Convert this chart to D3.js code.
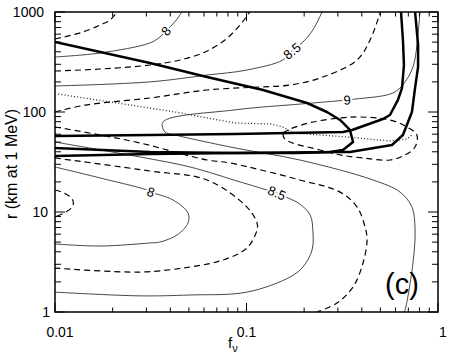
<!DOCTYPE html>
<html><head><meta charset="utf-8">
<script src="https://cdn.jsdelivr.net/npm/d3@7"></script>
<style>html,body{margin:0;padding:0;background:#fff;}svg{display:block;font-family:"Liberation Sans",Arial,sans-serif;}</style>
</head><body>
<script>
// ---- data (f_nu, r in km) ----
const xTickValues = [0.01, 0.1, 1];
const xTickLabels = ["0.01", "0.1", "1"];
const yTickValues = [1, 10, 100, 1000];
const yTickLabels = ["1", "10", "100", "1000"];

// thin solid contours (labelled levels)
const c800top = [[0.01,355],[0.0172,389],[0.0313,490],[0.0353,562],[0.038,646],[0.0408,741],[0.0434,851],[0.046,1000]];
const c800low = [[0.01,28.2],[0.0172,21.9],[0.0302,16.6],[0.0317,15.8],[0.0413,13.2],[0.0495,9.77],[0.0495,7.76],[0.0434,5.89],[0.0353,5.01],[0.0313,4.90],[0.0172,4.57],[0.01,4.79]];
const c850top = [[0.01,182],[0.0313,200],[0.0622,234],[0.1006,263],[0.155,331],[0.173,407],[0.197,501],[0.222,661],[0.248,1000]];
const c850low = [[0.01,50.1],[0.0278,35.5],[0.0507,28.2],[0.0925,20.0],[0.128,16.6],[0.144,15.5],[0.165,13.8],[0.190,12.0],[0.215,9.33],[0.222,6.61],[0.220,4.17],[0.197,2.82],[0.169,2.24],[0.1006,1.58],[0.0507,1.48],[0.0278,1.45],[0.01,1.58]];
const c900 = [[0.805,1000],[0.787,617],[0.740,282],[0.634,174],[0.561,151],[0.373,135],[0.335,132],[0.297,129],[0.190,120],[0.0871,105],[0.0366,79.4],[0.0375,63.1],[0.0424,58.9],[0.0871,43.7],[0.190,33.1],[0.458,20.9],[0.634,15.8],[0.731,11.2],[0.759,6.61],[0.740,3.09],[0.673,1.05],[0.664,1.0]];

// dashed contours (intermediate levels)
const c775top = [[0.01,537],[0.014,631],[0.0172,741],[0.0194,832],[0.0211,1000]];
const c775low = [[0.01,16.6],[0.0111,15.5],[0.0123,13.5],[0.0124,11.5],[0.0114,10],[0.0102,9.12]];
const c825top = [[0.01,257],[0.0172,269],[0.0313,295],[0.045,331],[0.0607,398],[0.0772,525],[0.0925,741],[0.104,1000]];
const c825low = [[0.01,34.7],[0.0313,25.7],[0.0622,20.9],[0.1006,11.2],[0.1135,7.76],[0.1135,6.61],[0.1006,4.37],[0.0754,3.31],[0.0507,2.82],[0.0278,2.51],[0.01,2.75]];
const c875top = [[0.01,100],[0.0143,117],[0.0313,138],[0.0622,166],[0.118,178],[0.169,186],[0.251,224],[0.378,331],[0.442,525],[0.498,977]];
const c875low = [[0.01,70.8],[0.0172,58.9],[0.0278,49.0],[0.0622,33.1],[0.082,30.9],[0.190,20.9],[0.308,15.8],[0.378,11.2],[0.416,7.08],[0.426,5.25],[0.406,3.09],[0.360,1.78],[0.297,1.23],[0.233,1.0]];
const c925 = [[0.155,61.7],[0.169,67.6],[0.222,79.4],[0.308,87.1],[0.392,89.1],[0.561,83.2],[0.689,70.8],[0.776,58.9],[0.759,44.7],[0.673,37.2],[0.561,33.1],[0.406,34.7],[0.308,37.2],[0.242,41.7],[0.169,50.1],[0.157,55.0],[0.155,61.7]];

// dotted curve
const dotted = [[0.0104,151],[0.0211,123],[0.0424,100],[0.0871,77.6],[0.133,75.9],[0.155,70.8],[0.175,61.7],[0.335,56.2],[0.561,51.3],[0.689,53.7],[0.740,60.3]];

// thick curves
const thick1 = [[0.01,501],[0.0313,309],[0.0622,224],[0.122,166],[0.207,123],[0.263,100],[0.308,83.2],[0.347,66.1],[0.360,50.1],[0.319,41.7],[0.273,39.8],[0.184,38.9],[0.0871,38.9],[0.0313,39.8],[0.01,43.7]];
const thick2 = [[0.01,57.5],[0.0313,58.9],[0.0871,60.3],[0.319,63.1],[0.356,66.1],[0.516,85.1],[0.561,93.3],[0.618,132],[0.649,174],[0.664,295],[0.656,525],[0.641,1000]];
const thick3 = [[0.01,36.3],[0.0313,38.0],[0.0871,38.9],[0.308,39.8],[0.347,39.8],[0.575,46.8],[0.656,58.9],[0.731,100],[0.759,174],[0.787,282],[0.787,468],[0.759,1000]];

// contour labels
const labelText = ["8", "8.5", "9", "8", "8.5"];
const labelF = [0.038, 0.173, 0.335, 0.0317, 0.144];
const labelR = [646, 407, 132, 15.8, 15.5];
const labelAngle = [-48, -38, -3, 18, 22];

// ---- drawing ----
const W = 453, H = 354;
const L = 55, R = 438, T = 12, B = 312;
const svg = d3.select("body").append("svg").attr("width", W).attr("height", H);
const x = d3.scaleLog().domain([0.01, 1]).range([L, R]);
const y = d3.scaleLog().domain([1, 1000]).range([B, T]);

svg.append("defs").append("clipPath").attr("id", "clip")
  .append("rect").attr("x", L).attr("y", T).attr("width", R - L).attr("height", B - T);
const g = svg.append("g").attr("clip-path", "url(#clip)");

const smooth = d3.line().x(d => x(d[0])).y(d => y(d[1])).curve(d3.curveCatmullRom.alpha(0.5));
const straight = d3.line().x(d => x(d[0])).y(d => y(d[1]));

function draw(data, gen, w, color, dash) {
  const p = g.append("path").attr("d", gen(data)).attr("fill", "none")
    .attr("stroke", color).attr("stroke-width", w).attr("stroke-linejoin", "round");
  if (dash) p.attr("stroke-dasharray", dash);
}
[c800top, c800low, c850top, c850low, c900].forEach(c => draw(c, smooth, 0.9, "#333", null));
[c775top, c775low, c825top, c825low, c875top, c875low, c925].forEach(c => draw(c, smooth, 1.2, "#000", "6,4"));
draw(dotted, straight, 1.3, "#222", "1,2.2");
[thick1, thick2, thick3].forEach(c => draw(c, straight, 2.5, "#000", null));

labelText.forEach((t, i) => {
  const px = x(labelF[i]), py = y(labelR[i]);
  g.append("text").attr("transform", `translate(${px},${py}) rotate(${labelAngle[i]})`)
    .attr("text-anchor", "middle").attr("dy", "0.35em")
    .attr("font-size", 13).attr("fill", "#000")
    .attr("stroke", "#fff").attr("stroke-width", 4).attr("paint-order", "stroke")
    .text(t);
});

// frame
svg.append("rect").attr("x", L).attr("y", T).attr("width", R - L).attr("height", B - T)
  .attr("fill", "none").attr("stroke", "#000").attr("stroke-width", 1.5);

// ticks
function logTicks(lo, hi) {
  const out = [];
  for (let e = Math.round(Math.log10(lo)); e < Math.round(Math.log10(hi)); e++) {
    for (let k = 1; k <= 9; k++) out.push({v: k * Math.pow(10, e), major: k === 1});
  }
  out.push({v: hi, major: true});
  return out;
}
const tk = svg.append("g").attr("stroke", "#000").attr("stroke-width", 1);
logTicks(0.01, 1).forEach(t => {
  const px = x(t.v), len = t.major ? 9 : 4.5;
  tk.append("line").attr("x1", px).attr("x2", px).attr("y1", B).attr("y2", B - len);
  tk.append("line").attr("x1", px).attr("x2", px).attr("y1", T).attr("y2", T + len);
});
logTicks(1, 1000).forEach(t => {
  const py = y(t.v), len = t.major ? 10 : 6;
  tk.append("line").attr("x1", L).attr("x2", L + len).attr("y1", py).attr("y2", py);
  tk.append("line").attr("x1", R).attr("x2", R - len).attr("y1", py).attr("y2", py);
});

// tick labels
const xLabelShift = [5, 0, 5];
xTickValues.forEach((v, i) => {
  svg.append("text").attr("x", x(v) + xLabelShift[i]).attr("y", 337)
    .attr("text-anchor", "middle").attr("font-size", 14).text(xTickLabels[i]);
});
yTickValues.forEach((v, i) => {
  const lab = yTickLabels[i];
  svg.append("text").attr("x", 44 + (4 - lab.length) * 2).attr("y", y(v) + 5)
    .attr("text-anchor", "end").attr("font-size", 14).text(lab);
});

// axis titles
const xt = svg.append("text").attr("x", 228).attr("y", 348).attr("font-size", 15);
xt.append("tspan").text("f");
xt.append("tspan").attr("dy", 4).attr("font-size", 11).text("ν");

svg.append("text").attr("transform", "translate(17,164) rotate(-90)")
  .attr("text-anchor", "middle").attr("font-size", 16).text("r (km at 1 MeV)");

svg.append("text").attr("x", 402).attr("y", 294).attr("text-anchor", "middle")
  .attr("font-size", 29).text("(c)");
</script>
</body></html>
